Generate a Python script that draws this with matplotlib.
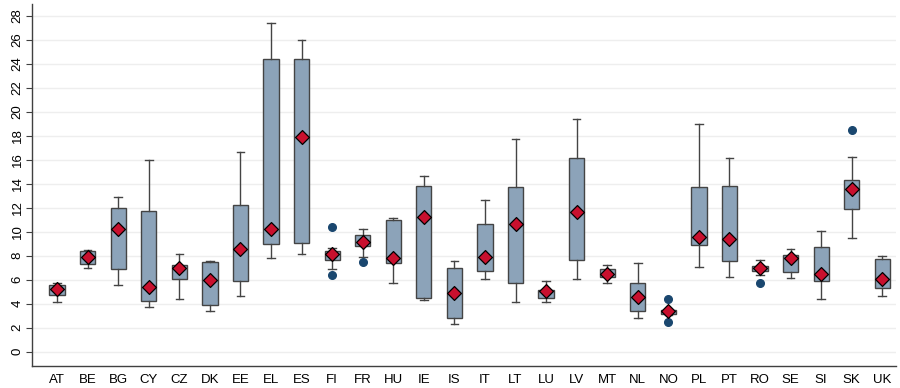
import matplotlib
matplotlib.use('Agg')
import matplotlib.pyplot as plt
import numpy as np

plt.rcParams['font.family'] = ['Liberation Sans', 'DejaVu Sans']

countries = ['AT', 'BE', 'BG', 'CY', 'CZ', 'DK', 'EE', 'EL', 'ES', 'FI', 'FR', 'HU', 'IE', 'IS',
             'IT', 'LT', 'LU', 'LV', 'MT', 'NL', 'NO', 'PL', 'PT', 'RO', 'SE', 'SI', 'SK', 'UK']

whis_lo = [4.1, 6.95, 5.55, 3.7, 4.4, 3.4, 4.6, 7.8, 8.15, 6.85, 7.9, 5.75, 4.3, 2.3,
           6.05, 4.15, 4.1, 6.05, 5.75, 2.8, 3.05, 7.05, 6.25, 6.35, 6.15, 4.35, 9.45, 4.6]
q1 = [4.75, 7.3, 6.85, 4.25, 6.05, 3.85, 5.85, 8.95, 9.05, 7.6, 8.8, 7.35, 4.45, 2.8,
      6.75, 5.75, 4.45, 7.65, 6.25, 3.35, 3.1, 8.9, 7.55, 6.7, 6.65, 5.85, 11.9, 5.3]
q3 = [5.55, 8.35, 11.95, 11.75, 7.25, 7.45, 12.2, 24.4, 24.4, 8.35, 9.75, 10.95, 13.8, 6.95,
      10.6, 13.7, 5.1, 16.1, 6.85, 5.75, 3.5, 13.7, 13.8, 7.15, 8.05, 8.75, 14.3, 7.75]
whis_hi = [5.75, 8.45, 12.85, 16.0, 8.15, 7.55, 16.6, 27.4, 26.0, 8.6, 10.2, 11.1, 14.6, 7.55,
           12.6, 17.7, 5.85, 19.4, 7.25, 7.35, 3.5, 19.0, 16.1, 7.65, 8.55, 10.05, 16.2, 7.95]
medians = [5.2, 7.9, 10.25, 5.35, 6.95, 5.95, 8.55, 10.2, 17.85, 8.15, 9.15, 7.8, 11.2, 4.85,
           7.85, 10.6, 5.05, 11.6, 6.45, 4.55, 3.35, 9.55, 9.35, 6.95, 7.8, 6.45, 13.55, 6.05]
outliers = {'FI': [10.35, 6.4], 'FR': [7.45], 'NO': [4.35, 2.45], 'RO': [5.75], 'SK': [18.5]}

stats = []
for i, c in enumerate(countries):
    stats.append({'whislo': whis_lo[i], 'q1': q1[i], 'med': medians[i], 'q3': q3[i],
                  'whishi': whis_hi[i], 'fliers': outliers.get(c, [])})

fig = plt.figure(figsize=(9, 3.88), dpi=100)
ax = fig.add_axes([0.0356, 0.0575, 0.96, 0.9325])

pos = np.arange(len(countries))
ax.bxp(stats, positions=pos, widths=0.5, patch_artist=True, showfliers=True,
       boxprops=dict(facecolor='#8ca3b9', edgecolor='#444444', linewidth=1.0),
       whiskerprops=dict(color='#444444', linewidth=1.0),
       capprops=dict(color='#444444', linewidth=1.0),
       medianprops=dict(linewidth=0),
       flierprops=dict(marker='o', markerfacecolor='#1a476f', markeredgecolor='#1a476f',
                       markersize=5.5),
       zorder=3)

# red diamonds mark the median
ax.scatter(pos, medians, marker='D', s=50, color='#c8102e', edgecolor='black',
           linewidth=0.9, zorder=5)

ax.set_xlim(-0.82, 27.45)
ax.set_ylim(-1.17, 28.97)
ax.set_yticks(np.arange(0, 29, 2))
ax.set_yticklabels([str(v) for v in range(0, 29, 2)], rotation=90, va='center', fontsize=9.5)
ax.set_xticks(pos)
ax.set_xticklabels(countries, fontsize=9.5)
ax.tick_params(axis='x', length=0, pad=6)
ax.tick_params(axis='y', length=4, pad=2, color='#404040')
ax.grid(axis='y', color='#eeeeee', linewidth=1.0, zorder=0)
ax.set_axisbelow(True)
for s in ['top', 'right']:
    ax.spines[s].set_visible(False)
for s in ['left', 'bottom']:
    ax.spines[s].set_color('#404040')
    ax.spines[s].set_linewidth(1.0)

fig.savefig('out.png', dpi=100)
